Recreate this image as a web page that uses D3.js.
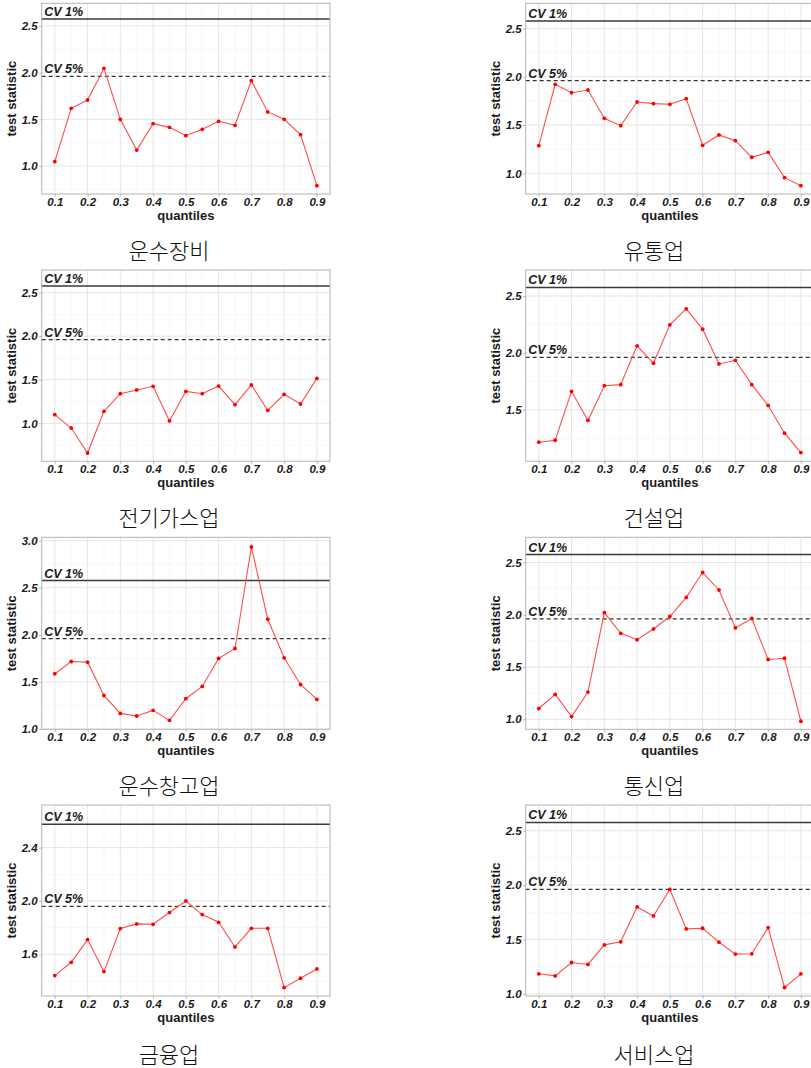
<!DOCTYPE html>
<html lang='ko'>
<head>
	<meta charset='UTF-8'/>
	<title>Quantile test statistics</title>
	<script src='https://cdnjs.cloudflare.com/ajax/libs/d3/7.8.5/d3.min.js'></script>
	<style>
		body {margin: 0; background: #fff;}
		svg {display: block;}
		.tick text {font-family: 'Liberation Sans', Arial, sans-serif; font-weight: bold; font-style: italic; font-size: 11.5px; fill: #1a1a1a;}
		.tick line {stroke: #b3b3b3;}
		.domain {display: none;}
		.lab {font-family: 'Liberation Sans', Arial, sans-serif; font-weight: bold; font-size: 13px; fill: #1a1a1a;}
		.cv {font-family: 'Liberation Sans', Arial, sans-serif; font-weight: bold; font-style: italic; font-size: 12.5px; fill: #1a1a1a;}
		.title {font-family: 'Noto Sans CJK KR', sans-serif; font-weight: 300; font-size: 22px; fill: #111;}
	</style>
</head>
<body>
	<div class='graph'></div>
	<script>
		// data
		const QUANTILES = [0.1, 0.15, 0.2, 0.25, 0.3, 0.35, 0.4, 0.45, 0.5, 0.55, 0.6, 0.65, 0.7, 0.75, 0.8, 0.85, 0.9];
		const X_TICKS = [0.1, 0.2, 0.3, 0.4, 0.5, 0.6, 0.7, 0.8, 0.9];
		const CV1 = 2.576;
		const CV5 = 1.96;

		const NAMES = ['운수장비', '유통업', '전기가스업', '건설업', '운수창고업', '통신업', '금융업', '서비스업'];

		const transportEquip = [1.046, 1.618, 1.707, 2.046, 1.500, 1.171, 1.454, 1.414, 1.325, 1.393, 1.479, 1.436, 1.914, 1.579, 1.500, 1.336, 0.789];
		const distribution = [1.286, 1.921, 1.834, 1.862, 1.569, 1.493, 1.738, 1.721, 1.714, 1.772, 1.290, 1.397, 1.338, 1.166, 1.217, 0.955, 0.872];
		const utilities = [1.099, 0.946, 0.659, 1.138, 1.340, 1.383, 1.425, 1.027, 1.367, 1.340, 1.428, 1.214, 1.440, 1.149, 1.333, 1.222, 1.516];
		const construction = [1.215, 1.232, 1.662, 1.406, 1.712, 1.721, 2.062, 1.909, 2.247, 2.388, 2.209, 1.903, 1.935, 1.721, 1.538, 1.294, 1.124];
		const warehousing = [1.587, 1.717, 1.710, 1.357, 1.166, 1.138, 1.198, 1.092, 1.322, 1.452, 1.749, 1.855, 2.933, 2.166, 1.756, 1.473, 1.314];
		const telecom = [1.103, 1.238, 1.026, 1.260, 2.021, 1.822, 1.761, 1.864, 1.983, 2.166, 2.404, 2.237, 1.874, 1.964, 1.572, 1.584, 0.981];
		const finance = [1.440, 1.540, 1.710, 1.470, 1.793, 1.828, 1.825, 1.913, 2.000, 1.898, 1.840, 1.655, 1.795, 1.795, 1.350, 1.420, 1.490];
		const services = [1.184, 1.165, 1.288, 1.270, 1.450, 1.478, 1.799, 1.716, 1.961, 1.597, 1.603, 1.475, 1.365, 1.368, 1.609, 1.058, 1.184];
		const SERIES = [transportEquip, distribution, utilities, construction, warehousing, telecom, finance, services];

		const Y_TICKS = [
			[1.0, 1.5, 2.0, 2.5], [1.0, 1.5, 2.0, 2.5], [1.0, 1.5, 2.0, 2.5], [1.5, 2.0, 2.5],
			[1.0, 1.5, 2.0, 2.5, 3.0], [1.0, 1.5, 2.0, 2.5], [1.6, 2.0, 2.4], [1.0, 1.5, 2.0, 2.5]
		];
		const Y_LIMITS = [
			[0.70, 2.743], [0.786, 2.759], [0.564, 2.76], [1.047, 2.729],
			[0.997, 3.036], [0.904, 2.741], [1.287, 2.72], [0.98, 2.736]
		];

		// layout
		const W = 811, H = 1068;
		const COL_X = [41.7, 525.7];
		const PLOT_W = 288.3;
		const ROWS = [[3.3, 194], [270, 461.3], [537.3, 729.3], [805, 996]];
		const TITLE_X = [169, 654];
		const TITLE_Y = [249, 516, 784, 1053];

		const svg = d3.select('.graph').append('svg')
			.attr('width', W).attr('height', H);
		svg.append('rect').attr('width', W).attr('height', H).attr('fill', '#fff');

		SERIES.forEach((vals, i) => {
			const col = i % 2, row = Math.floor(i / 2);
			const x0 = COL_X[col], x1 = x0 + PLOT_W;
			const [y0, y1] = ROWS[row];

			const X = d3.scaleLinear().domain([0.06, 0.94]).range([x0, x1]);
			const Y = d3.scaleLinear().domain(Y_LIMITS[i]).range([y1, y0]);

			const g = svg.append('g');

			// grid
			const ticks = Y_TICKS[i];
			const step = ticks[1] - ticks[0];
			const minorY = [];
			for (let v = ticks[0] - step / 2; v < Y_LIMITS[i][1]; v += step) {
				if (v > Y_LIMITS[i][0]) minorY.push(v);
			}
			const minorX = X_TICKS.slice(0, -1).map(d => d + 0.05);

			g.selectAll('.minx').data(minorX).enter().append('line')
				.attr('x1', d => X(d)).attr('x2', d => X(d)).attr('y1', y0).attr('y2', y1)
				.attr('stroke', '#f2f2f2').attr('stroke-width', 0.6);
			g.selectAll('.miny').data(minorY).enter().append('line')
				.attr('x1', x0).attr('x2', x1).attr('y1', d => Y(d)).attr('y2', d => Y(d))
				.attr('stroke', '#f2f2f2').attr('stroke-width', 0.6);
			g.selectAll('.majx').data(X_TICKS).enter().append('line')
				.attr('x1', d => X(d)).attr('x2', d => X(d)).attr('y1', y0).attr('y2', y1)
				.attr('stroke', '#e6e6e6').attr('stroke-width', 1);
			g.selectAll('.majy').data(ticks).enter().append('line')
				.attr('x1', x0).attr('x2', x1).attr('y1', d => Y(d)).attr('y2', d => Y(d))
				.attr('stroke', '#e6e6e6').attr('stroke-width', 1);

			// critical values
			g.append('line')
				.attr('x1', x0).attr('x2', x1).attr('y1', Y(CV1)).attr('y2', Y(CV1))
				.attr('stroke', '#3a3a3a').attr('stroke-width', 1.5);
			g.append('line')
				.attr('x1', x0).attr('x2', x1).attr('y1', Y(CV5)).attr('y2', Y(CV5))
				.attr('stroke', '#333').attr('stroke-width', 1.3)
				.attr('stroke-dasharray', '4,3');
			g.append('text').attr('class', 'cv')
				.attr('x', x0 + 2.5).attr('y', Y(CV1) - 3).text('CV 1%');
			g.append('text').attr('class', 'cv')
				.attr('x', x0 + 2.5).attr('y', Y(CV5) - 3).text('CV 5%');

			// series
			const line = d3.line().x((d, j) => X(QUANTILES[j])).y(d => Y(d));
			g.append('path').datum(vals)
				.attr('d', line)
				.attr('fill', 'none')
				.attr('stroke', '#ff4d4d')
				.attr('stroke-width', 1.1);
			g.selectAll('.pt').data(vals).enter().append('circle')
				.attr('cx', (d, j) => X(QUANTILES[j]))
				.attr('cy', d => Y(d))
				.attr('r', 1.9)
				.attr('fill', '#ff0000');

			// border
			g.append('rect')
				.attr('x', x0).attr('y', y0).attr('width', x1 - x0).attr('height', y1 - y0)
				.attr('fill', 'none').attr('stroke', '#b3b3b3').attr('stroke-width', 1);

			// axes
			g.append('g')
				.attr('transform', 'translate(' + x0 + ',0)')
				.call(d3.axisLeft(Y).tickValues(ticks).tickSize(2.5).tickPadding(1.5).tickFormat(d3.format('.1f')));
			g.append('g')
				.attr('transform', 'translate(0,' + y1 + ')')
				.call(d3.axisBottom(X).tickValues(X_TICKS).tickSize(2.5).tickPadding(1.5).tickFormat(d3.format('.1f')));

			g.append('text').attr('class', 'lab')
				.attr('text-anchor', 'middle')
				.attr('x', (x0 + x1) / 2).attr('y', y1 + 26)
				.text('quantiles');
			g.append('text').attr('class', 'lab')
				.attr('text-anchor', 'middle')
				.attr('transform', 'translate(' + (x0 - 25.5) + ',' + ((y0 + y1) / 2) + ') rotate(-90)')
				.text('test statistic');

			svg.append('text').attr('class', 'title')
				.attr('text-anchor', 'middle')
				.attr('dominant-baseline', 'central')
				.attr('x', TITLE_X[col]).attr('y', TITLE_Y[row])
				.text(NAMES[i]);
		});
	</script>
</body>
</html>
